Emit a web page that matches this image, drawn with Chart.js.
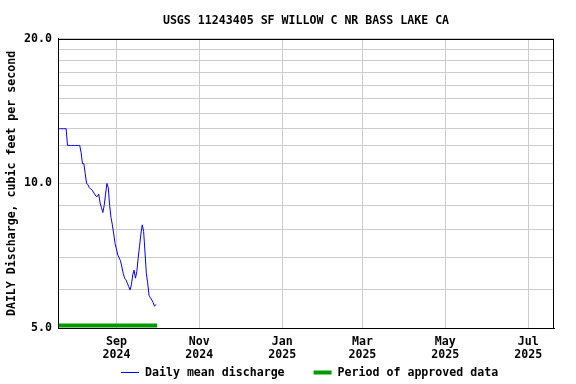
<!DOCTYPE html>
<html lang="en">
<head>
<meta charset="UTF-8">
<title>USGS 11243405 SF WILLOW C NR BASS LAKE CA</title>
<script src="https://cdn.jsdelivr.net/npm/chart.js@4.4.1/dist/chart.umd.min.js"></script>
<style>
    body { margin: 0; background: #ffffff; }
    #wrap { width: 576px; height: 384px; }
</style>
</head>
<body>
<div id="wrap"><canvas id="flowChart" width="576" height="384"></canvas></div>
<script>
    // daily mean discharge (cfs), one value per day starting at firstDay
    var firstDay = '2024-07-20';
    var dailyFlow = [
        13, 13, 13, 13, 13, 13, 13,
        12, 12, 12, 12, 12, 12, 12, 12, 12, 12,
        11.6, 11.0, 11.0, 10.5, 10.0, 9.95, 9.8, 9.75, 9.7, 9.6,
        9.5, 9.4, 9.4, 9.5, 9.1, 8.9, 8.7, 9.0, 9.5, 10.0,
        9.8, 9.0, 8.5, 8.2, 7.85, 7.5, 7.3, 7.1, 7.0, 6.9,
        6.7, 6.5, 6.35, 6.3, 6.2, 6.1, 6.0, 6.15, 6.45, 6.6,
        6.35, 6.55, 7.0, 7.4, 7.85, 8.2, 7.95, 7.2, 6.5, 6.2,
        5.85, 5.78, 5.72, 5.65, 5.55, 5.6
    ];
    var approvedPeriod = ['2024-07-20', '2024-10-01'];
    var axisRange = ['2024-07-20', '2025-07-20'];
    var monthTicks = ['2024-09-01', '2024-11-01', '2025-01-01', '2025-03-01', '2025-05-01', '2025-07-01'];
    var monthLabels = [['Sep', '2024'], ['Nov', '2024'], ['Jan', '2025'], ['Mar', '2025'], ['May', '2025'], ['Jul', '2025']];
    var yGrid = [5, 6, 7, 8, 9, 10, 11, 12, 13, 14, 15, 16, 17, 18, 19, 20];
    var yLabeled = [5, 10, 20];

    function dayNum(s) {
        var p = s.split('-');
        return Date.UTC(+p[0], +p[1] - 1, +p[2]) / 86400000;
    }

    var FONT = { family: 'DejaVu Sans Mono', weight: 'bold', size: 11.6 };
    var APPROVED_Y = 5.06; // bar sits just above the x axis

    var start = dayNum(firstDay);
    var flowPoints = dailyFlow.map(function(v, i) { return { x: start + i, y: v }; });
    var approvedPoints = approvedPeriod.map(function(d) { return { x: dayNum(d), y: APPROVED_Y }; });

    // black box round the plot area
    var frame = {
        id: 'frame',
        afterDraw: function(chart) {
            var a = chart.chartArea, c = chart.ctx;
            c.save();
            c.strokeStyle = '#000000';
            c.lineWidth = 1;
            c.strokeRect(Math.round(a.left) + 0.5, Math.round(a.top) + 0.5,
                Math.round(a.right - a.left) - 1, Math.round(a.bottom - a.top));
            c.restore();
        }
    };

    // legend row under the dates, built from the datasets
    var bottomLegend = {
        id: 'bottomLegend',
        afterDraw: function(chart) {
            var c = chart.ctx;
            var x = 121, y = 372.5;
            c.save();
            c.font = 'bold 11.6px "DejaVu Sans Mono"';
            c.textBaseline = 'middle';
            c.fillStyle = '#000000';
            chart.data.datasets.forEach(function(ds) {
                c.strokeStyle = ds.borderColor;
                c.lineWidth = ds.borderWidth;
                c.beginPath();
                c.moveTo(x, y);
                c.lineTo(x + 18, y);
                c.stroke();
                c.fillText(ds.label, x + 24, y + 0.5);
                x += 24 + c.measureText(ds.label).width + 29;
            });
            c.restore();
        }
    };

    Chart.defaults.font.family = FONT.family;
    Chart.defaults.color = '#000000';

    new Chart(document.getElementById('flowChart'), {
        type: 'line',
        data: {
            datasets: [{
                label: 'Daily mean discharge',
                data: flowPoints,
                borderColor: '#0000ff',
                borderWidth: 1,
                pointRadius: 0,
                tension: 0
            }, {
                label: 'Period of approved data',
                data: approvedPoints,
                borderColor: '#009a00',
                borderWidth: 4,
                pointRadius: 0,
                tension: 0
            }]
        },
        options: {
            responsive: false,
            animation: false,
            devicePixelRatio: 1,
            layout: { padding: { left: 0, right: 22, top: 0, bottom: 23 } },
            plugins: {
                tooltip: { enabled: false },
                legend: { display: false },
                title: {
                    display: true,
                    fullSize: false,
                    text: 'USGS 11243405 SF WILLOW C NR BASS LAKE CA',
                    color: '#000000',
                    font: FONT,
                    padding: { top: 14, bottom: 11 }
                }
            },
            scales: {
                x: {
                    type: 'linear',
                    min: dayNum(axisRange[0]),
                    max: dayNum(axisRange[1]),
                    afterBuildTicks: function(scale) {
                        scale.ticks = monthTicks.map(function(d) { return { value: dayNum(d) }; });
                    },
                    afterFit: function(scale) { scale.height = 33; },
                    grid: { color: '#cccccc', lineWidth: 1, drawTicks: false },
                    border: { color: '#000000', width: 1 },
                    ticks: {
                        autoSkip: false,
                        maxRotation: 0,
                        padding: 7.5,
                        font: { family: FONT.family, weight: 'bold', size: 11.6, lineHeight: 1.12 },
                        callback: function(value, index) { return monthLabels[index]; }
                    }
                },
                y: {
                    type: 'logarithmic',
                    min: 5,
                    max: 20,
                    afterBuildTicks: function(scale) {
                        scale.ticks = yGrid.map(function(v) { return { value: v }; });
                    },
                    afterFit: function(scale) { scale.width = 58; },
                    grid: { color: '#cccccc', lineWidth: 1, drawTicks: false },
                    border: { color: '#000000', width: 1 },
                    ticks: {
                        autoSkip: false,
                        padding: 6,
                        font: FONT,
                        callback: function(value) {
                            return yLabeled.indexOf(value) >= 0 ? value.toFixed(1) : '';
                        }
                    },
                    title: {
                        display: true,
                        text: 'DAILY Discharge, cubic feet per second',
                        font: FONT,
                        padding: { top: 5, bottom: 0 }
                    }
                }
            }
        },
        plugins: [frame, bottomLegend]
    });
</script>
</body>
</html>
